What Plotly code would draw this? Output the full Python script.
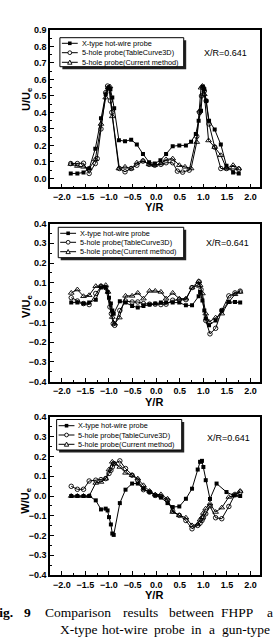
import plotly.graph_objects as go

# ---------------- data ----------------
# Panel 1: U/Ue
u_hw_x = [-1.81,-1.67,-1.54,-1.42,-1.29,-1.17,-1.07,-1.01,-0.97,-0.93,-0.89,-0.79,-0.66,-0.53,-0.41,-0.28,-0.15,-0.03,0.09,0.21,0.35,0.49,0.63,0.74,0.84,0.90,0.95,0.99,1.02,1.06,1.12,1.24,1.37,1.49,1.63,1.75]
u_hw_y = [0.03,0.03,0.036,0.06,0.18,0.365,0.51,0.55,0.54,0.49,0.425,0.232,0.225,0.235,0.205,0.148,0.098,0.09,0.11,0.148,0.195,0.2,0.2,0.222,0.27,0.35,0.41,0.557,0.54,0.47,0.35,0.296,0.205,0.076,0.036,0.03]
u_tc_x = [-1.81,-1.67,-1.54,-1.42,-1.29,-1.25,-1.17,-1.07,-1.03,-1.0,-0.97,-0.94,-0.78,-0.66,-0.53,-0.41,-0.28,-0.15,-0.03,0.1,0.21,0.35,0.45,0.56,0.70,0.86,0.92,0.96,0.99,1.02,1.06,1.12,1.24,1.37,1.49,1.63,1.75]
u_tc_y = [0.09,0.09,0.092,0.03,0.09,0.12,0.3,0.52,0.56,0.55,0.47,0.4,0.06,0.04,0.06,0.08,0.105,0.085,0.08,0.085,0.095,0.095,0.044,0.038,0.05,0.255,0.4,0.5,0.55,0.53,0.47,0.33,0.19,0.06,0.06,0.06,0.056]
u_cm_x = [-1.81,-1.67,-1.54,-1.42,-1.29,-1.17,-1.07,-1.02,-0.98,-0.93,-0.79,-0.66,-0.53,-0.41,-0.28,-0.15,-0.03,0.1,0.21,0.35,0.49,0.61,0.74,0.86,0.92,0.95,0.98,1.02,1.11,1.24,1.37,1.49,1.63,1.75]
u_cm_y = [0.087,0.075,0.07,0.06,0.115,0.33,0.49,0.55,0.557,0.376,0.06,0.07,0.06,0.095,0.107,0.085,0.08,0.09,0.115,0.12,0.08,0.07,0.06,0.22,0.41,0.55,0.56,0.51,0.23,0.19,0.14,0.06,0.08,0.06]

# Panel 2: V/Ue
v_hw_x = [-1.80,-1.67,-1.54,-1.42,-1.28,-1.17,-1.07,-1.03,-1.0,-0.96,-0.93,-0.9,-0.77,-0.65,-0.51,-0.39,-0.27,-0.14,-0.02,0.1,0.21,0.35,0.49,0.63,0.76,0.9,0.93,0.98,1.02,1.05,1.12,1.26,1.39,1.54,1.67,1.78]
v_hw_y = [0,0,-0.005,0,0.015,0.076,0.076,0.054,0.025,-0.005,-0.04,-0.056,0.007,0,-0.017,-0.025,-0.017,-0.01,-0.005,0,0,0,0,-0.014,-0.014,0.032,0.054,0.01,-0.04,-0.08,-0.115,-0.09,-0.04,0.003,0.003,0]
v_tc_x = [-1.80,-1.67,-1.54,-1.42,-1.28,-1.17,-1.07,-0.98,-0.95,-0.91,-0.88,-0.77,-0.65,-0.51,-0.39,-0.27,-0.14,-0.02,0.1,0.21,0.35,0.49,0.63,0.76,0.88,0.91,0.95,1.05,1.14,1.26,1.39,1.54,1.67,1.78]
v_tc_y = [0.025,0.008,-0.005,-0.01,0.046,0.083,0.076,-0.022,-0.056,-0.107,-0.115,-0.04,0.008,0.003,0.003,-0.005,-0.008,-0.008,-0.01,-0.008,0.012,0.015,0.015,0.076,0.088,0.105,0.066,-0.09,-0.158,-0.13,-0.04,0.034,0.049,0.058]
v_cm_x = [-1.80,-1.67,-1.54,-1.42,-1.28,-1.17,-1.07,-1.02,-0.93,-0.88,-0.78,-0.65,-0.51,-0.39,-0.27,-0.14,-0.02,0.1,0.21,0.35,0.49,0.63,0.76,0.9,0.93,0.98,1.05,1.12,1.26,1.39,1.54,1.67,1.78]
v_cm_y = [0.049,0.066,0.032,0.037,0.083,0.083,0.088,0.054,-0.073,-0.107,-0.076,0.034,0.034,0.049,0.02,0.059,0.059,0.054,0.02,0.049,0.02,0.02,0.076,0.108,0.088,0.046,-0.056,-0.098,-0.076,-0.056,0.003,0.042,0.054]

# Panel 3: W/Ue
w_hw_x = [-1.80,-1.67,-1.54,-1.42,-1.28,-1.17,-1.07,-1.03,-1.0,-0.96,-0.93,-0.9,-0.77,-0.65,-0.51,-0.39,-0.27,-0.14,-0.02,0.1,0.24,0.35,0.49,0.63,0.76,0.88,0.93,0.97,1.0,1.05,1.14,1.28,1.49,1.64,1.78]
w_hw_y = [0,0,0,0,-0.022,-0.068,-0.064,-0.073,-0.107,-0.144,-0.19,-0.197,-0.036,0.032,0.063,0.063,0.037,0.02,0.003,-0.008,-0.036,-0.056,-0.053,-0.014,0.037,0.134,0.173,0.178,0.147,0.08,-0.015,0.063,0.02,0.003,0.0]
w_tc_x = [-1.80,-1.67,-1.54,-1.42,-1.28,-1.17,-1.07,-1.0,-0.96,-0.93,-0.9,-0.77,-0.65,-0.51,-0.39,-0.27,-0.14,-0.02,0.1,0.24,0.35,0.49,0.63,0.76,0.88,0.93,0.97,1.0,1.05,1.14,1.26,1.39,1.54,1.67,1.78]
w_tc_y = [0.049,0.034,0.034,0.076,0.08,0.083,0.088,0.114,0.13,0.147,0.164,0.178,0.139,0.105,0.08,0.032,0.02,0.003,-0.002,-0.022,-0.076,-0.098,-0.124,-0.166,-0.149,-0.137,-0.124,-0.11,-0.09,-0.05,-0.11,-0.115,-0.053,0.008,0.02]
w_cm_x = [-1.80,-1.67,-1.54,-1.42,-1.28,-1.17,-1.07,-1.0,-0.93,-0.88,-0.77,-0.65,-0.51,-0.39,-0.27,-0.14,-0.02,0.1,0.24,0.35,0.49,0.63,0.76,0.88,0.93,0.97,1.0,1.05,1.14,1.26,1.39,1.54,1.67,1.78]
w_cm_y = [0,0,0,0,0.066,0.071,0.088,0.134,0.173,0.164,0.147,0.117,0.105,0.088,0.054,0.025,0.007,0.008,-0.014,-0.081,-0.098,-0.11,-0.149,-0.144,-0.12,-0.107,-0.086,-0.064,-0.039,-0.081,-0.059,-0.005,0.003,0.025]

series_names = ["X-type hot-wire probe", "5-hole probe(TableCurve3D)", "5-hole probe(Current method)"]
y_titles = ["U/U<sub>e</sub>", "V/U<sub>e</sub>", "W/U<sub>e</sub>"]
x_title = "Y/R"
annot_text = "X/R=0.641"
caption1 = [("Fig.", True), ("9", True), ("Comparison", False), ("results", False), ("between", False), ("FHPP", False), ("a", False)]
caption2 = ["X-type", "hot-wire", "probe", "in", "a", "gun-type"]

panels = [
    (u_hw_x, u_hw_y, u_tc_x, u_tc_y, u_cm_x, u_cm_y),
    (v_hw_x, v_hw_y, v_tc_x, v_tc_y, v_cm_x, v_cm_y),
    (w_hw_x, w_hw_y, w_tc_x, w_tc_y, w_cm_x, w_cm_y),
]

# ---------------- layout geometry (pixels) ----------------
W, H = 274, 644
ML, MR, MT, MB = 50, 12, 30, 69
PW = W - ML - MR
PH = H - MT - MB

def PX(px):
    return (px - ML) / PW

def PY(py):
    return 1 - (py - MT) / PH

plot_px = [(30, 187.3), (223.5, 381.7), (417, 575)]
yranges = [[-0.054, 0.9], [-0.4, 0.4], [-0.4, 0.4]]
legend_box = [(60, 37.7, 185, 66.7), (58.3, 227.3, 185, 257.7), (56.7, 419.5, 183, 450)]
legend_rows = [(43.3, 52.7, 62.3), (233.3, 242.3, 251.7), (425.7, 435.0, 444.3)]
annot_pos = [(227.5, 52.7), (229.5, 243.3), (230, 438.3)]
ytitle_pos = [(26.7, 99), (26.7, 306), (25.5, 501)]
xtitle_pos = [(155.3, 207), (155.3, 401.7), (155.3, 595)]

FONT = "Liberation Sans, Arial, sans-serif"
SERIF = "Liberation Serif, Times New Roman, serif"

fig = go.Figure()
symbols = [
    dict(symbol="square", size=4, color="black", line=dict(width=0)),
    dict(symbol="circle-open", size=4.5, color="black", line=dict(width=0.9)),
    dict(symbol="triangle-up-open", size=5, color="black", line=dict(width=0.9)),
]

for i, pdata in enumerate(panels):
    xa = "x" if i == 0 else f"x{i+1}"
    ya = "y" if i == 0 else f"y{i+1}"
    for k in range(3):
        fig.add_trace(go.Scatter(
            x=pdata[2*k], y=pdata[2*k+1], mode="lines+markers",
            name=series_names[k], xaxis=xa, yaxis=ya, showlegend=False,
            line=dict(color="black", width=1), marker=symbols[k],
        ))

shapes = []
annotations = []
layout = dict(
    width=W, height=H, margin=dict(l=ML, r=MR, t=MT, b=MB, pad=0),
    paper_bgcolor="white", plot_bgcolor="white", showlegend=False,
    font=dict(family=FONT, color="black"),
)

for i in range(3):
    top, bot = plot_px[i]
    xkey = "xaxis" if i == 0 else f"xaxis{i+1}"
    ykey = "yaxis" if i == 0 else f"yaxis{i+1}"
    ya = "y" if i == 0 else f"y{i+1}"
    xa = "x" if i == 0 else f"x{i+1}"
    layout[xkey] = dict(
        domain=[0, 1], anchor=ya, range=[-2.25, 2.2],
        tickmode="linear", tick0=-2.0, dtick=0.5, tickformat=".1f",
        ticks="inside", ticklen=4, tickwidth=1, tickcolor="black",
        minor=dict(ticks="inside", ticklen=2, dtick=0.25, tickcolor="black", tickwidth=1),
        showline=True, linecolor="black", linewidth=1.5, mirror=True,
        showgrid=False, zeroline=False,
        tickfont=dict(size=9, family=FONT, weight="bold"),
    )
    layout[ykey] = dict(
        domain=[PY(bot), PY(top)], anchor=xa, range=yranges[i],
        tickmode="linear", tick0=0.0, dtick=0.1, tickformat=".1f",
        ticks="inside", ticklen=4, tickwidth=1, tickcolor="black",
        minor=dict(ticks="inside", ticklen=2, dtick=0.05, tickcolor="black", tickwidth=1),
        showline=True, linecolor="black", linewidth=1.5, mirror=True,
        showgrid=False, zeroline=False,
        tickfont=dict(size=9, family=FONT, weight="bold"),
    )

    # axis titles as annotations
    tx, ty = xtitle_pos[i]
    annotations.append(dict(xref="paper", yref="paper", x=PX(tx), y=PY(ty),
                            xanchor="center", yanchor="middle", showarrow=False,
                            text=f"<b>{x_title}</b>", font=dict(size=11, family=FONT, color="black")))
    tx, ty = ytitle_pos[i]
    annotations.append(dict(xref="paper", yref="paper", x=PX(tx), y=PY(ty),
                            xanchor="center", yanchor="middle", showarrow=False, textangle=-90,
                            text=f"<b>{y_titles[i]}</b>", font=dict(size=11, family=FONT, color="black")))

    # legend (manual)
    x0, y0, x1, y1 = legend_box[i]
    shapes.append(dict(type="rect", xref="paper", yref="paper",
                       x0=PX(x0 + 2.5), x1=PX(x1 + 2.5), y0=PY(y1 + 2.5), y1=PY(y0 + 2.5),
                       fillcolor="#222", line=dict(width=0), layer="above"))
    shapes.append(dict(type="rect", xref="paper", yref="paper",
                       x0=PX(x0), x1=PX(x1), y0=PY(y1), y1=PY(y0),
                       fillcolor="white", line=dict(color="black", width=1), layer="above"))
    for k, ry in enumerate(legend_rows[i]):
        lx0, lx1 = x0 + 2, x0 + 18
        mx = (lx0 + lx1) / 2
        shapes.append(dict(type="line", xref="paper", yref="paper",
                           x0=PX(lx0), x1=PX(lx1), y0=PY(ry), y1=PY(ry),
                           line=dict(color="black", width=1), layer="above"))
        if k == 0:
            shapes.append(dict(type="rect", xref="paper", yref="paper",
                               x0=PX(mx - 1.8), x1=PX(mx + 1.8), y0=PY(ry + 1.8), y1=PY(ry - 1.8),
                               fillcolor="black", line=dict(width=0), layer="above"))
        elif k == 1:
            shapes.append(dict(type="circle", xref="paper", yref="paper",
                               x0=PX(mx - 1.9), x1=PX(mx + 1.9), y0=PY(ry + 1.9), y1=PY(ry - 1.9),
                               fillcolor="white", line=dict(color="black", width=0.9), layer="above"))
        else:
            path = "M {:.4f} {:.4f} L {:.4f} {:.4f} L {:.4f} {:.4f} Z".format(
                PX(mx - 2.2), PY(ry + 1.9), PX(mx + 2.2), PY(ry + 1.9), PX(mx), PY(ry - 2.2))
            shapes.append(dict(type="path", xref="paper", yref="paper", path=path,
                               fillcolor="white", line=dict(color="black", width=0.9), layer="above"))
        annotations.append(dict(xref="paper", yref="paper", x=PX(x0 + 20), y=PY(ry),
                                xanchor="left", yanchor="middle", showarrow=False,
                                text=series_names[k], font=dict(size=7.3, family=FONT, color="black")))
    ax_, ay_ = annot_pos[i]
    annotations.append(dict(xref="paper", yref="paper", x=PX(ax_), y=PY(ay_),
                            xanchor="center", yanchor="middle", showarrow=False,
                            text=annot_text, font=dict(size=9, family=FONT, color="black")))

# caption (cropped at the page edge, like the reference)
cap1_x = [15, 21.7, 43, 121.7, 168, 220.7, 266.7]
cap1_anchor = ["right", "left", "left", "left", "left", "left", "left"]
cap2_x = [58, 100, 153, 190, 208, 222]
for (word, bold), cx, anc in zip(caption1, cap1_x, cap1_anchor):
    annotations.append(dict(xref="paper", yref="paper", x=PX(cx), y=PY(612.7),
                            xanchor=anc, yanchor="middle", showarrow=False,
                            text=f"<b>{word}</b>" if bold else word,
                            font=dict(size=13.5, family=SERIF, color="black")))
for word, cx in zip(caption2, cap2_x):
    annotations.append(dict(xref="paper", yref="paper", x=PX(cx), y=PY(629.3),
                            xanchor="left", yanchor="middle", showarrow=False,
                            text=word, font=dict(size=13.5, family=SERIF, color="black")))

layout["shapes"] = shapes
layout["annotations"] = annotations
fig.update_layout(**layout)
fig.write_html("out.html")
